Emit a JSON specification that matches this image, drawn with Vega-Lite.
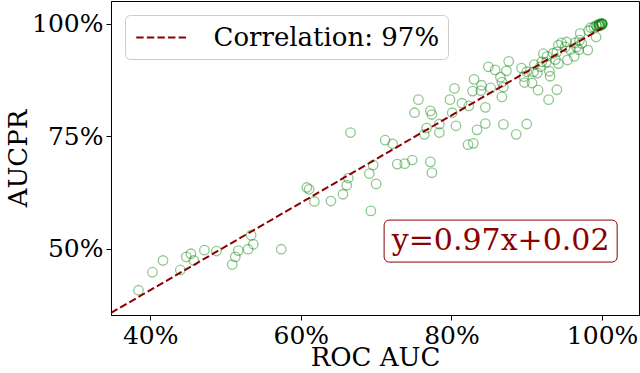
{
  "$schema": "https://vega.github.io/schema/vega-lite/v6.json",
  "width": 528,
  "height": 314,
  "autosize": {"type": "none"},
  "padding": {"left": 111, "top": 1, "right": 1, "bottom": 58},
  "background": "white",
  "config": {
    "view": {"stroke": "black", "strokeWidth": 1},
    "font": "DejaVu Serif",
    "axis": {
      "labelFont": "DejaVu Serif", "labelFontSize": 25, "labelColor": "black",
      "titleFont": "DejaVu Serif", "titleFontSize": 26, "titleFontWeight": "normal", "titleColor": "black",
      "domainColor": "black", "tickColor": "black", "tickSize": 5, "grid": false
    }
  },
  "datasets": {
    "pts": [
      {"roc": 0.3845, "pr": 0.408}, {"roc": 0.403, "pr": 0.448}, {"roc": 0.417, "pr": 0.474}, {"roc": 0.440, "pr": 0.453},
      {"roc": 0.448, "pr": 0.482}, {"roc": 0.454, "pr": 0.489}, {"roc": 0.458, "pr": 0.474}, {"roc": 0.472, "pr": 0.497},
      {"roc": 0.488, "pr": 0.495}, {"roc": 0.509, "pr": 0.465}, {"roc": 0.513, "pr": 0.482}, {"roc": 0.517, "pr": 0.496},
      {"roc": 0.530, "pr": 0.499}, {"roc": 0.534, "pr": 0.530}, {"roc": 0.537, "pr": 0.510}, {"roc": 0.574, "pr": 0.499},
      {"roc": 0.608, "pr": 0.636}, {"roc": 0.611, "pr": 0.632}, {"roc": 0.618, "pr": 0.605}, {"roc": 0.640, "pr": 0.606},
      {"roc": 0.656, "pr": 0.621}, {"roc": 0.661, "pr": 0.641}, {"roc": 0.663, "pr": 0.657}, {"roc": 0.691, "pr": 0.667},
      {"roc": 0.696, "pr": 0.686}, {"roc": 0.700, "pr": 0.644}, {"roc": 0.693, "pr": 0.584}, {"roc": 0.728, "pr": 0.688},
      {"roc": 0.738, "pr": 0.689}, {"roc": 0.748, "pr": 0.697}, {"roc": 0.772, "pr": 0.693}, {"roc": 0.774, "pr": 0.669},
      {"roc": 0.666, "pr": 0.758}, {"roc": 0.712, "pr": 0.741}, {"roc": 0.722, "pr": 0.733}, {"roc": 0.751, "pr": 0.802},
      {"roc": 0.756, "pr": 0.831}, {"roc": 0.767, "pr": 0.768}, {"roc": 0.764, "pr": 0.754}, {"roc": 0.784, "pr": 0.777},
      {"roc": 0.784, "pr": 0.758}, {"roc": 0.772, "pr": 0.806}, {"roc": 0.774, "pr": 0.798}, {"roc": 0.798, "pr": 0.831},
      {"roc": 0.804, "pr": 0.856}, {"roc": 0.801, "pr": 0.802}, {"roc": 0.806, "pr": 0.773}, {"roc": 0.814, "pr": 0.823},
      {"roc": 0.823, "pr": 0.817}, {"roc": 0.828, "pr": 0.850}, {"roc": 0.830, "pr": 0.876}, {"roc": 0.840, "pr": 0.863},
      {"roc": 0.839, "pr": 0.851}, {"roc": 0.845, "pr": 0.814}, {"roc": 0.845, "pr": 0.778}, {"roc": 0.834, "pr": 0.764},
      {"roc": 0.822, "pr": 0.731}, {"roc": 0.829, "pr": 0.734}, {"roc": 0.849, "pr": 0.904}, {"roc": 0.852, "pr": 0.857},
      {"roc": 0.858, "pr": 0.897}, {"roc": 0.865, "pr": 0.881}, {"roc": 0.867, "pr": 0.870}, {"roc": 0.869, "pr": 0.859},
      {"roc": 0.867, "pr": 0.837}, {"roc": 0.869, "pr": 0.776}, {"roc": 0.876, "pr": 0.916}, {"roc": 0.873, "pr": 0.895},
      {"roc": 0.886, "pr": 0.754}, {"roc": 0.893, "pr": 0.901}, {"roc": 0.896, "pr": 0.882}, {"roc": 0.897, "pr": 0.869},
      {"roc": 0.900, "pr": 0.777}, {"roc": 0.900, "pr": 0.893}, {"roc": 0.909, "pr": 0.893}, {"roc": 0.914, "pr": 0.890},
      {"roc": 0.907, "pr": 0.868}, {"roc": 0.910, "pr": 0.909}, {"roc": 0.915, "pr": 0.852}, {"roc": 0.918, "pr": 0.904},
      {"roc": 0.922, "pr": 0.933}, {"roc": 0.920, "pr": 0.915}, {"roc": 0.927, "pr": 0.927}, {"roc": 0.935, "pr": 0.934},
      {"roc": 0.926, "pr": 0.914}, {"roc": 0.930, "pr": 0.894}, {"roc": 0.931, "pr": 0.883}, {"roc": 0.940, "pr": 0.853},
      {"roc": 0.929, "pr": 0.831}, {"roc": 0.938, "pr": 0.920}, {"roc": 0.940, "pr": 0.937}, {"roc": 0.942, "pr": 0.952},
      {"roc": 0.946, "pr": 0.957}, {"roc": 0.951, "pr": 0.948}, {"roc": 0.954, "pr": 0.919}, {"roc": 0.953, "pr": 0.959},
      {"roc": 0.958, "pr": 0.942}, {"roc": 0.964, "pr": 0.957}, {"roc": 0.963, "pr": 0.927}, {"roc": 0.971, "pr": 0.978},
      {"roc": 0.966, "pr": 0.948}, {"roc": 0.970, "pr": 0.963}, {"roc": 0.973, "pr": 0.956}, {"roc": 0.969, "pr": 0.942},
      {"roc": 0.981, "pr": 0.941}, {"roc": 0.982, "pr": 0.984}, {"roc": 0.992, "pr": 0.970}, {"roc": 0.985, "pr": 0.991},
      {"roc": 0.942, "pr": 0.911},
      {"roc": 0.989, "pr": 0.992}, {"roc": 0.992, "pr": 0.996}, {"roc": 0.995, "pr": 0.996}, {"roc": 0.996, "pr": 0.998},
      {"roc": 0.997, "pr": 0.999}, {"roc": 0.999, "pr": 1.0}, {"roc": 1.0, "pr": 1.0}, {"roc": 1.0, "pr": 0.999},
      {"roc": 1.0, "pr": 1.0}, {"roc": 0.993, "pr": 0.994}, {"roc": 0.996, "pr": 0.994}, {"roc": 0.997, "pr": 0.996},
      {"roc": 0.999, "pr": 0.997}, {"roc": 1.0, "pr": 0.998}
    ],
    "fit": [{"roc": 0.348, "pr": 0.3576}, {"roc": 1.0, "pr": 0.99}],
    "note": [{"label": "y=0.97x+0.02", "x1": 0.7106, "x2": 1.020, "y1": 0.4705, "y2": 0.5637, "xc": 0.8653, "yc": 0.517}]
  },
  "layer": [
    {
      "data": {"name": "pts"},
      "mark": {"type": "point", "shape": "circle", "filled": false, "stroke": "green", "strokeOpacity": 0.62, "strokeWidth": 1.3, "size": 90},
      "encoding": {
        "x": {"field": "roc", "type": "quantitative", "scale": {"domain": [0.348, 1.049], "nice": false, "zero": false},
              "axis": {"values": [0.4, 0.6, 0.8, 1.0], "format": ".0%", "title": "ROC AUC", "labelPadding": 3, "titlePadding": -4}},
        "y": {"field": "pr", "type": "quantitative", "scale": {"domain": [0.353, 1.05], "nice": false, "zero": false},
              "axis": {"values": [0.5, 0.75, 1.0], "format": ".0%", "title": "AUCPR", "labelPadding": 3, "titlePadding": 0}}
      }
    },
    {
      "data": {"name": "fit"},
      "mark": {"type": "line", "stroke": "#8b0000", "strokeWidth": 2},
      "encoding": {
        "x": {"field": "roc", "type": "quantitative"},
        "y": {"field": "pr", "type": "quantitative"},
        "strokeDash": {"datum": "Correlation: 97%", "type": "nominal", "scale": {"range": [[7.4, 3.2]]},
          "legend": {"title": null, "orient": "top-left", "offset": 14, "fillColor": "rgba(255,255,255,0.85)", "strokeColor": "#cccccc",
                     "cornerRadius": 5, "padding": 8, "labelFont": "DejaVu Serif", "labelFontSize": 26, "labelColor": "black",
                     "labelLimit": 500, "symbolType": "M-0.85,0H3.15", "symbolSize": 702, "symbolStrokeWidth": 2, "symbolStrokeColor": "#8b0000",
                     "symbolDash": [7.4, 3.2], "labelOffset": 51.5}}
      }
    },
    {
      "data": {"name": "note"},
      "mark": {"type": "rect", "fill": "white", "stroke": "#8b0000", "strokeWidth": 1, "cornerRadius": 5},
      "encoding": {
        "x": {"field": "x1", "type": "quantitative"}, "x2": {"field": "x2"},
        "y": {"field": "y1", "type": "quantitative"}, "y2": {"field": "y2"}
      }
    },
    {
      "data": {"name": "note"},
      "mark": {"type": "text", "font": "DejaVu Serif", "fontSize": 30, "color": "#8b0000", "align": "center", "baseline": "middle"},
      "encoding": {
        "x": {"field": "xc", "type": "quantitative"},
        "y": {"field": "yc", "type": "quantitative"},
        "text": {"field": "label"}
      }
    }
  ]
}
